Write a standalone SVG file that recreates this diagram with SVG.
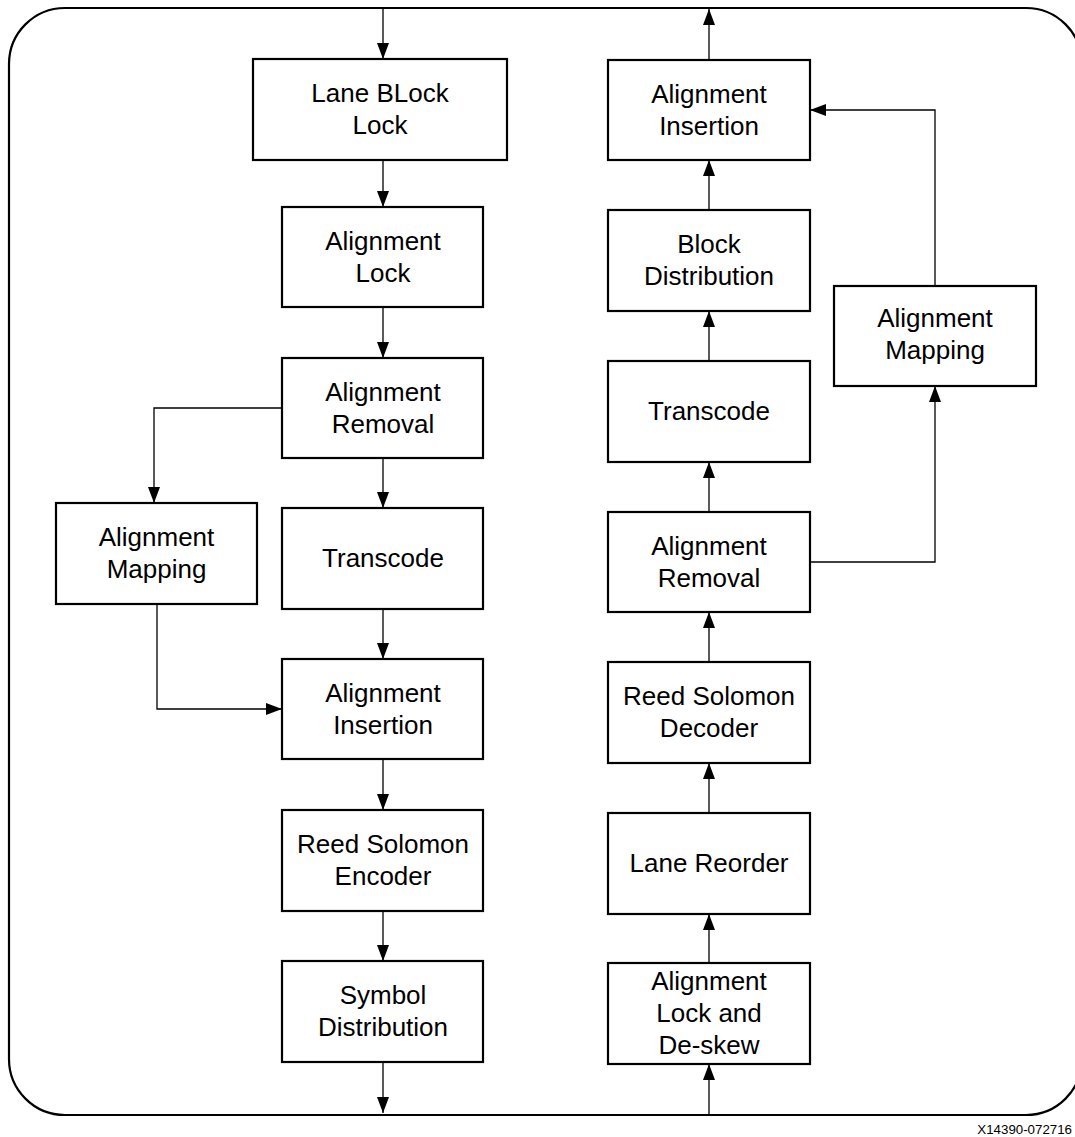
<svg xmlns="http://www.w3.org/2000/svg" width="1075" height="1137" viewBox="0 0 1075 1137">
<style>
.box{fill:#fff;stroke:#000;stroke-width:2.2}
.t{font-family:"Liberation Sans",Arial,sans-serif;font-size:26px;fill:#000;text-anchor:middle}
.c{fill:none;stroke:#000;stroke-width:1.3}
.frame{fill:none;stroke:#000;stroke-width:2.2}
</style>
<defs>
<marker id="ah" markerUnits="userSpaceOnUse" markerWidth="16" markerHeight="12" refX="16" refY="6" orient="auto">
<path d="M0,0 L16,6 L0,12 Z" fill="#000"/>
</marker>
</defs>
<rect width="1075" height="1137" fill="#fff"/>
<rect class="frame" x="9" y="8" width="1073" height="1107" rx="56" ry="56"/>

<g id="connectors">
<line class="c" x1="383" y1="8" x2="383" y2="59" marker-end="url(#ah)"/>
<line class="c" x1="383" y1="160" x2="383" y2="207" marker-end="url(#ah)"/>
<line class="c" x1="383" y1="307" x2="383" y2="358" marker-end="url(#ah)"/>
<line class="c" x1="383" y1="458" x2="383" y2="508" marker-end="url(#ah)"/>
<line class="c" x1="383" y1="609" x2="383" y2="659" marker-end="url(#ah)"/>
<line class="c" x1="383" y1="759" x2="383" y2="810" marker-end="url(#ah)"/>
<line class="c" x1="383" y1="911" x2="383" y2="961" marker-end="url(#ah)"/>
<line class="c" x1="383" y1="1062" x2="383" y2="1113" marker-end="url(#ah)"/>
<polyline class="c" points="282,408 154,408 154,503" marker-end="url(#ah)"/>
<polyline class="c" points="157,604 157,709 282,709" marker-end="url(#ah)"/>

<line class="c" x1="709" y1="60" x2="709" y2="9" marker-end="url(#ah)"/>
<line class="c" x1="709" y1="210" x2="709" y2="160" marker-end="url(#ah)"/>
<line class="c" x1="709" y1="361" x2="709" y2="311" marker-end="url(#ah)"/>
<line class="c" x1="709" y1="512" x2="709" y2="462" marker-end="url(#ah)"/>
<line class="c" x1="709" y1="662" x2="709" y2="612" marker-end="url(#ah)"/>
<line class="c" x1="709" y1="813" x2="709" y2="763" marker-end="url(#ah)"/>
<line class="c" x1="709" y1="963" x2="709" y2="914" marker-end="url(#ah)"/>
<line class="c" x1="709" y1="1115" x2="709" y2="1064" marker-end="url(#ah)"/>
<polyline class="c" points="810,562 935,562 935,386" marker-end="url(#ah)"/>
<polyline class="c" points="935,286 935,110 810,110" marker-end="url(#ah)"/>
</g>

<g id="lane-block-lock">
<rect class="box" x="253" y="59" width="254" height="101"/>
<text class="t" x="380" y="102">Lane BLock</text>
<text class="t" x="380" y="134">Lock</text>
</g>
<g id="alignment-lock">
<rect class="box" x="282" y="207" width="201" height="100"/>
<text class="t" x="383" y="250">Alignment</text>
<text class="t" x="383" y="282">Lock</text>
</g>
<g id="alignment-removal-tx">
<rect class="box" x="282" y="358" width="201" height="100"/>
<text class="t" x="383" y="401">Alignment</text>
<text class="t" x="383" y="433">Removal</text>
</g>
<g id="transcode-tx">
<rect class="box" x="282" y="508" width="201" height="101"/>
<text class="t" x="383" y="567">Transcode</text>
</g>
<g id="alignment-insertion-tx">
<rect class="box" x="282" y="659" width="201" height="100"/>
<text class="t" x="383" y="702">Alignment</text>
<text class="t" x="383" y="734">Insertion</text>
</g>
<g id="rs-encoder">
<rect class="box" x="282" y="810" width="201" height="101"/>
<text class="t" x="383" y="853">Reed Solomon</text>
<text class="t" x="383" y="885">Encoder</text>
</g>
<g id="symbol-distribution">
<rect class="box" x="282" y="961" width="201" height="101"/>
<text class="t" x="383" y="1004">Symbol</text>
<text class="t" x="383" y="1036">Distribution</text>
</g>
<g id="alignment-mapping-tx">
<rect class="box" x="56" y="503" width="201" height="101"/>
<text class="t" x="156.5" y="546">Alignment</text>
<text class="t" x="156.5" y="578">Mapping</text>
</g>

<g id="alignment-insertion-rx">
<rect class="box" x="608" y="60" width="202" height="100"/>
<text class="t" x="709" y="103">Alignment</text>
<text class="t" x="709" y="135">Insertion</text>
</g>
<g id="block-distribution">
<rect class="box" x="608" y="210" width="202" height="101"/>
<text class="t" x="709" y="253">Block</text>
<text class="t" x="709" y="285">Distribution</text>
</g>
<g id="transcode-rx">
<rect class="box" x="608" y="361" width="202" height="101"/>
<text class="t" x="709" y="420">Transcode</text>
</g>
<g id="alignment-removal-rx">
<rect class="box" x="608" y="512" width="202" height="100"/>
<text class="t" x="709" y="555">Alignment</text>
<text class="t" x="709" y="587">Removal</text>
</g>
<g id="rs-decoder">
<rect class="box" x="608" y="662" width="202" height="101"/>
<text class="t" x="709" y="705">Reed Solomon</text>
<text class="t" x="709" y="737">Decoder</text>
</g>
<g id="lane-reorder">
<rect class="box" x="608" y="813" width="202" height="101"/>
<text class="t" x="709" y="872">Lane Reorder</text>
</g>
<g id="alignment-lock-deskew">
<rect class="box" x="608" y="963" width="202" height="101"/>
<text class="t" x="709" y="990">Alignment</text>
<text class="t" x="709" y="1022">Lock and</text>
<text class="t" x="709" y="1054">De-skew</text>
</g>
<g id="alignment-mapping-rx">
<rect class="box" x="834" y="286" width="202" height="100"/>
<text class="t" x="935" y="327">Alignment</text>
<text class="t" x="935" y="359">Mapping</text>
</g>

<text x="1072" y="1134" font-family="'Liberation Sans',Arial,sans-serif" font-size="13.3" text-anchor="end" fill="#000">X14390-072716</text>
</svg>
